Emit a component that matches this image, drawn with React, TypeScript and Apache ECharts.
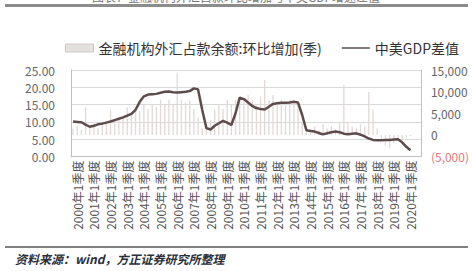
import React, { useEffect, useRef } from "react";
import * as echarts from "echarts";

const FONT = "'Noto Sans CJK SC', 'Noto Sans', sans-serif";

// quarterly categories, 1999Q4 .. 2020Q3
const quarters: string[] = (() => {
  const out: string[] = ["1999年4季度"];
  for (let y = 2000; y <= 2020; y++) {
    for (let q = 1; q <= 4; q++) {
      if (y === 2020 && q === 4) break;
      out.push(`${y}年${q}季度`);
    }
  }
  return out;
})();

// 金融机构外汇占款余额:环比增加(季), 亿元 (right axis)
const fxIncrease: (number | null)[] = [
  1500, 2000, 1200, 6400, 1800, 2500, 1500, 2800, 3000, 5800,
  3500, 4200, 4000, 6400, 5000, 6200, 5500, 6900, 6000, 6900,
  6500, 8100, 7200, 8100, 7000, 14300, 8000, 7500, 8000, 6000,
  4000, 1500, 2500, 3500, 5800, 6900, 6000, 8100, 7000, 8100,
  7500, 8000, 9200, 8100, 7000, 8800, 12700, 8000, 9200, 7500,
  8100, 7000, 8100, 7400, 7400, 3000, 1500, 500, 2000, 1000,
  2500, 1500, 2000, 1200, 3000, 11500, 3000, 2000, 1500, 2500,
  2000, 9900, 5800, 1500, -1200, -2500, -3000, -2000, -800, -1000,
  -600, -300, null, null,
];

// 中美GDP差值 (left axis)
const gdpGap: (number | null)[] = [
  10.1, 10.0, 9.9, 9.2, 8.6, 8.9, 9.3, 9.5, 9.8, 10.1,
  10.5, 10.9, 11.3, 11.8, 12.3, 13.5, 15.8, 17.4, 17.9, 18.0,
  18.1, 18.4, 18.7, 18.8, 18.6, 18.5, 18.6, 18.7, 18.9, 19.7,
  19.4, 13.5, 8.2, 7.8, 8.9, 9.6, 10.3, 9.8, 9.1, 12.5,
  17.0, 16.6, 15.6, 14.6, 14.0, 13.7, 13.6, 14.4, 15.2, 15.4,
  15.5, 15.5, 15.6, 15.8, 15.6, 12.0, 7.6, 7.4, 7.2, 6.8,
  6.4, 6.7, 7.0, 7.2, 7.0, 6.6, 6.4, 6.6, 6.7, 6.3,
  5.8, 5.2, 4.8, 4.7, 4.7, 4.8, 4.8, 4.9, 5.0, 4.1,
  2.8, 1.8, null, null,
];

const leftTicks = { min: 0, max: 25, interval: 5 };
const rightTicks = { min: -5000, max: 15000, interval: 5000 };

const barName = "金融机构外汇占款余额:环比增加(季)";
const lineName = "中美GDP差值";
const titleText = "图表：金融机构外汇占款环比增加与中美GDP增速差值";
const sourceText = "资料来源：wind，方正证券研究所整理";

const LINE_ICON = "path://M0,3.1h30v1.8h-30z M0,0h0.01v0.01h-0.01z M0,8h0.01v0.01h-0.01z";

export default function App() {
  const ref = useRef<HTMLDivElement>(null);
  useEffect(() => {
    document.body.style.margin = "0";
    if (!ref.current) return;
    const chart = echarts.init(ref.current, null, { renderer: "svg" });
    chart.setOption({
      animation: false,
      backgroundColor: "#ffffff",
      textStyle: { fontFamily: FONT },
      legend: {
        left: 60,
        top: 36,
        itemGap: 20,
        itemWidth: 28,
        itemHeight: 8,
        textStyle: { fontSize: 14, color: "#333", fontFamily: FONT },
        data: [
          { name: barName, icon: "rect", itemStyle: { color: "#e6e0dc", borderColor: "#d2c9c5", borderWidth: 1 } },
          { name: lineName, icon: LINE_ICON, itemStyle: { color: "#5e4c4c" } },
        ],
      },
      grid: { left: 71, right: 40, top: 70, bottom: 114.5, containLabel: false },
      xAxis: {
        type: "category",
        data: quarters,
        boundaryGap: true,
        axisLine: { lineStyle: { color: "#bfbfbf" } },
        axisTick: { show: false },
        axisLabel: {
          rotate: 90,
          interval: (i: number) => i % 4 === 1,
          fontSize: 12,
          color: "#555",
          margin: 4,
          fontFamily: FONT,
        },
      },
      yAxis: [
        {
          type: "value",
          ...leftTicks,
          axisLine: { show: true, lineStyle: { color: "#bfbfbf" } },
          axisTick: { show: false },
          splitLine: { lineStyle: { color: "#d9d9d9" } },
          axisLabel: {
            fontSize: 12,
            color: "#666",
            margin: 16,
            fontFamily: FONT,
            formatter: (v: number) => v.toFixed(2),
          },
        },
        {
          type: "value",
          ...rightTicks,
          axisLine: { show: true, lineStyle: { color: "#bfbfbf" } },
          axisTick: { show: false },
          splitLine: { show: false },
          axisLabel: {
            fontSize: 12,
            color: "#666",
            margin: 10,
            fontFamily: FONT,
            formatter: (v: number) =>
              v < 0
                ? `{neg|(${Math.abs(v).toLocaleString("en-US")})}`
                : v.toLocaleString("en-US"),
            rich: { neg: { color: "#e07a7a", fontSize: 12, fontFamily: FONT } },
          },
        },
      ],
      series: [
        {
          name: barName,
          type: "bar",
          yAxisIndex: 1,
          data: fxIncrease,
          barWidth: 1.3,
          itemStyle: { color: "#e2d8d6" },
        },
        {
          name: lineName,
          type: "line",
          yAxisIndex: 0,
          data: gdpGap,
          showSymbol: false,
          symbol: "none",
          lineStyle: { color: "#5e4c4c", width: 2.5 },
          itemStyle: { color: "#5e4c4c" },
        },
      ],
      graphic: [
        {
          type: "text",
          left: "center",
          top: -10,
          style: { text: titleText, fontSize: 12, fill: "#777", fontFamily: FONT },
        },
        { type: "rect", shape: { x: 5, y: 4, width: 463, height: 3 }, style: { fill: "#8c8c8c" } },
        { type: "rect", shape: { x: 5, y: 246, width: 463, height: 2 }, style: { fill: "#7f7f7f" } },
        {
          type: "text",
          left: 15,
          top: 252,
          style: {
            text: sourceText,
            fontSize: 12,
            fontWeight: "bold",
            fontStyle: "italic",
            fill: "#2b2f3a",
            fontFamily: FONT,
          },
        },
      ],
    });
    return () => chart.dispose();
  }, []);
  return <div ref={ref} style={{ width: 472, height: 271 }} />;
}

export { quarters, fxIncrease, gdpGap };
